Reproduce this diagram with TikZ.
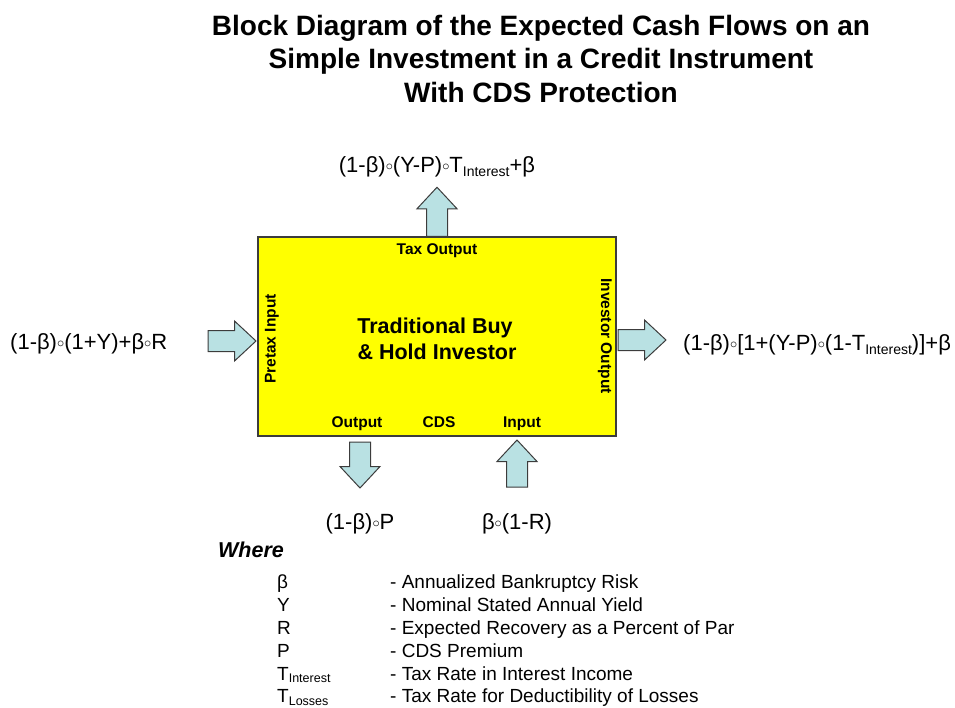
\documentclass[tikz,border=0pt]{standalone}
\usepackage{fontspec}
\setmainfont{Liberation Sans}
\definecolor{arrowfill}{HTML}{B9E1E3}
\definecolor{edge}{HTML}{3C3C3C}
\definecolor{boxfill}{HTML}{FFFF00}
% small raised ring used as the product sign
\newcommand{\ring}{\raisebox{0.08em}{$\scriptstyle\circ$}}
% lowered subscripts for the formulas and the legend
\newcommand{\lowsub}[1]{\raisebox{-4pt}{\fontsize{14}{14}\selectfont #1}}
\newcommand{\legsub}[1]{\raisebox{-2.5pt}{\fontsize{12.5}{12.5}\selectfont #1}}
% block arrow: #1 tail point, #2 direction angle, #3 length
\newcommand{\blockarrow}[3]{%
  \draw[arrowbody, shift={#1}, rotate=#2]
    (0,-10.5) -- ({#3-21.5},-10.5) -- ({#3-21.5},-20) -- (#3,0)
    -- ({#3-21.5},20) -- ({#3-21.5},10.5) -- (0,10.5) -- cycle;}
\tikzset{
  titletext/.style={font=\fontsize{28}{33}\selectfont\bfseries, inner sep=0, anchor=base},
  formula/.style={font=\fontsize{22}{26}\selectfont, inner sep=0},
  boxlabel/.style={font=\fontsize{15.5}{18}\selectfont\bfseries, inner sep=0},
  bigbox/.style={draw=edge, line width=1.5pt, fill=boxfill, inner sep=0},
  legend/.style={font=\fontsize{19}{22}\selectfont, inner sep=0, anchor=base west},
  arrowbody/.style={draw=edge, fill=arrowfill, line width=1pt, line join=miter},
}
\begin{document}
\begin{tikzpicture}[x=1pt, y=-1pt]
\useasboundingbox (0,0) rectangle (955,707);

% title
\node[titletext] (title1) at (541,35) {Block Diagram of the Expected Cash Flows on an};
\node[titletext] (title2) at (541,68) {Simple Investment in a Credit Instrument};
\node[titletext] (title3) at (541,102) {With CDS Protection};

% the investor block
\node[bigbox, minimum width=358, minimum height=199] (box) at (437,336.5) {};
\node[boxlabel, anchor=base] (taxout) at (437,254.5) {Tax Output};
\node[boxlabel, rotate=90] (pretax) at (272,339) {Pretax Input};
\node[boxlabel, rotate=-90] (invout) at (605,336) {Investor Output};
\node[font=\fontsize{21.5}{26}\selectfont\bfseries, inner sep=0, anchor=base] (name1) at (435,333) {Traditional Buy};
\node[font=\fontsize{21.5}{26}\selectfont\bfseries, inner sep=0, anchor=base] (name2) at (437,359) {\& Hold Investor};
\node[boxlabel, anchor=base] (cdsout) at (357,427) {Output};
\node[boxlabel, anchor=base] (cds) at (439,427) {CDS};
\node[boxlabel, anchor=base] (cdsin) at (522,427) {Input};

% flows
\node[formula, anchor=base] (taxflow) at (437,172)
  {(1-β)\ring(Y-P)\ring T\lowsub{Interest}+β};
\node[formula, anchor=base west] (inflow) at (10,349)
  {(1-β)\ring(1+Y)+β\ring R};
\node[formula, anchor=base west] (outflow) at (683,350)
  {(1-β)\ring[1+(Y-P)\ring(1-T\lowsub{Interest})]+β};
\node[formula, anchor=base] (premium) at (360,529) {(1-β)\ring P};
\node[formula, anchor=base] (payoff) at (517,529) {β\ring(1-R)};

% block arrows between the flows and the block
\blockarrow{(box.north)}{90}{49}
\blockarrow{(208,341)}{0}{48}
\blockarrow{(618,340)}{0}{48}
\blockarrow{(360,442)}{-90}{46}
\blockarrow{(517,487)}{90}{47}

% legend
\node[font=\fontsize{21.5}{26}\selectfont\bfseries\itshape, inner sep=0, anchor=base west] (where) at (218,557) {Where};
\node[legend] (s1) at (277,588) {β};
\node[legend] (d1) at (390,588) {- Annualized Bankruptcy Risk};
\node[legend] (s2) at (277,611) {Y};
\node[legend] (d2) at (390,611) {- Nominal Stated Annual Yield};
\node[legend] (s3) at (277,634) {R};
\node[legend] (d3) at (390,634) {- Expected Recovery as a Percent of Par};
\node[legend] (s4) at (277,657) {P};
\node[legend] (d4) at (390,657) {- CDS Premium};
\node[legend] (s5) at (277,680) {T\legsub{Interest}};
\node[legend] (d5) at (390,680) {- Tax Rate in Interest Income};
\node[legend] (s6) at (277,702.5) {T\legsub{Losses}};
\node[legend] (d6) at (390,702.5) {- Tax Rate for Deductibility of Losses};
\end{tikzpicture}
\end{document}
